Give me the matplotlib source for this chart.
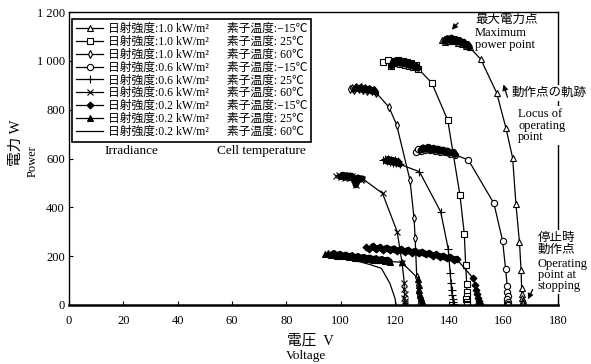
import matplotlib
matplotlib.use("Agg")
import matplotlib.pyplot as plt

plt.rcParams['font.family'] = ['Liberation Serif', 'Noto Sans CJK JP']
plt.rcParams['axes.unicode_minus'] = True

# ---- data (voltage V, power W) ----
# 1.0 kW/m2, -15 C  (open triangle)
v_10_m15 = [137.2, 138.0, 138.5, 139.3, 140.0, 140.8, 141.5, 142.3, 143.0, 143.8, 144.5, 145.3, 146.0, 146.8, 147.5,
            151.6, 157.4, 160.8, 163.3, 164.5, 165.8, 166.4, 166.6,
            166.7, 166.9, 167.0, 167.1, 167.2, 167.3, 167.0, 167.4]
p_10_m15 = [1085, 1090, 1078, 1092, 1082, 1095, 1080, 1090, 1075, 1085, 1070, 1078, 1062, 1068, 1055,
            1006, 869, 726, 602, 414, 258, 143, 70,
            45, 30, 20, 12, 5, 0, 8, 2]

# 1.0 kW/m2, 25 C  (open square)
v_10_25 = [115.7, 117.5, 118.7, 119.5, 120.3, 121.2, 122.0, 122.8, 123.6, 124.4, 125.2, 126.0, 126.8, 127.6, 128.5,
           133.5, 139.4, 143.9, 145.5, 146.0, 146.4,
           146.4, 146.5, 146.3, 146.6, 146.4, 146.5]
p_10_25 = [996, 1004, 978, 1000, 990, 1002, 988, 998, 985, 995, 980, 990, 975, 982, 968,
           910, 757, 450, 291, 164, 86,
           55, 38, 25, 14, 6, 0]

# 1.0 kW/m2, 60 C  (small open diamond)
v_10_60 = [103.4, 104.2, 105.0, 105.8, 106.6, 107.4, 108.2, 109.0, 109.8, 110.6, 111.4, 112.2, 113.0,
           117.8, 120.6, 125.5, 127.0, 127.4, 128.0,
           128.3, 128.6, 128.9, 129.2, 129.5, 129.8, 129.0]
p_10_60 = [885, 890, 882, 892, 884, 891, 880, 888, 878, 886, 875, 882, 870,
           810, 737, 512, 356, 274, 115,
           80, 55, 35, 20, 10, 3, 0]

# 0.6 kW/m2, -15 C  (open circle)
v_06_m15 = [127.6, 128.5, 129.4, 130.3, 131.2, 132.1, 133.0, 133.9, 134.8, 135.7, 136.6, 137.5, 138.4, 139.3, 140.2, 141.2, 142.2,
            147.0, 156.4, 159.6, 160.7, 161.3,
            161.4, 161.6, 161.3, 161.7, 161.5, 161.6]
p_06_m15 = [628, 640, 632, 645, 636, 646, 634, 643, 632, 640, 628, 636, 625, 632, 620, 626, 615,
            594, 416, 263, 147, 78,
            55, 38, 25, 14, 6, 0]

# 0.6 kW/m2, 25 C  (plus)
v_06_25 = [115.7, 116.3, 116.9, 117.5, 118.1, 118.7, 119.3, 119.9, 120.5, 121.1, 121.8,
           129.0, 136.8, 139.6, 140.3,
           140.6, 140.8, 141.0, 141.2, 141.4, 141.6, 141.5]
p_06_25 = [592, 600, 588, 598, 586, 595, 583, 592, 580, 588, 576,
           546, 382, 229, 130,
           90, 60, 40, 25, 12, 5, 0]

# 0.6 kW/m2, 60 C  (x)
v_06_60 = [98.3, 99.2, 100.0, 100.8, 101.6, 102.4, 103.2, 104.0, 104.8, 105.6, 106.4, 107.4, 108.0,
           115.4, 120.8, 122.6, 123.4,
           123.4, 123.6, 123.3, 123.7, 123.5, 123.6]
p_06_60 = [528, 534, 524, 533, 522, 531, 520, 529, 518, 491, 522, 514, 518,
           457, 300, 172, 92,
           65, 45, 30, 18, 8, 0]

# 0.2 kW/m2, -15 C  (filled diamond)
v_02_m15 = [109.2, 110.5, 111.8, 113.1, 114.4, 115.7, 117.0, 118.3, 119.6, 120.9, 122.2, 123.5, 124.8, 126.1,
            127.4, 128.7, 130.0, 131.3, 132.6, 133.9, 135.2, 136.5, 137.8, 139.1, 140.4, 141.6, 142.7,
            148.8,
            149.5, 149.8, 150.2, 150.5, 150.8, 151.0, 150.6, 151.2]
p_02_m15 = [238, 230, 240, 228, 236, 226, 234, 224, 231, 221, 228, 218, 225, 215,
            221, 211, 217, 207, 212, 202, 207, 197, 201, 191, 195, 186, 188,
            109,
            80, 60, 45, 30, 18, 8, 0, 3]

# 0.2 kW/m2, 25 C  (filled triangle)
v_02_25 = [94.2, 95.3, 96.4, 97.5, 98.6, 99.7, 100.8, 101.9, 103.0, 104.1, 105.2, 106.3, 107.4, 108.5,
           109.6, 110.7, 111.8, 112.9, 114.0, 115.1, 116.2, 117.2, 118.1,
           122.4, 128.6,
           128.7, 129.0, 129.3, 129.6, 129.9, 130.2, 129.8]
p_02_25 = [208, 214, 204, 212, 202, 209, 199, 206, 196, 203, 194, 200, 191, 197,
           188, 194, 186, 191, 183, 188, 180, 185, 178,
           175, 108,
           80, 60, 42, 28, 15, 6, 0]

# 0.2 kW/m2, 60 C  (line only)
v_02_60 = [95.0, 100.0, 104.0, 107.0, 111.0, 115.0, 118.1, 120.0, 120.4]
p_02_60 = [200, 192, 184, 177, 165, 150, 89, 27, 0]

# number of points at the start of each series that belong to the dense MPP cluster
mpp_counts = [15, 15, 13, 17, 11, 13, 27, 23, 0]

irr_labels = ["1.0", "1.0", "1.0", "0.6", "0.6", "0.6", "0.2", "0.2", "0.2"]
temp_labels = ["−15", " 25", " 60", "−15", " 25", " 60", "−15", " 25", " 60"]

series = [
    (v_10_m15, p_10_m15, dict(marker="^", ms=4.5, mfc="white")),
    (v_10_25, p_10_25, dict(marker="s", ms=4, mfc="white")),
    (v_10_60, p_10_60, dict(marker="d", ms=4, mfc="white")),
    (v_06_m15, p_06_m15, dict(marker="o", ms=4.5, mfc="white")),
    (v_06_25, p_06_25, dict(marker="+", ms=6)),
    (v_06_60, p_06_60, dict(marker="x", ms=5)),
    (v_02_m15, p_02_m15, dict(marker="D", ms=3.5, mfc="black")),
    (v_02_25, p_02_25, dict(marker="^", ms=4.5, mfc="black")),
    (v_02_60, p_02_60, dict(marker="None")),
]

fig = plt.figure(figsize=(5.91, 3.64), dpi=100)
ax = fig.add_axes([0.1168, 0.1621, 0.8274, 0.8049])

for (v, p, style), irr, temp, n in zip(series, irr_labels, temp_labels, mpp_counts):
    label = f"日射強度:{irr} kW/m²      素子温度:{temp}℃"
    ax.plot(v, p, color="black", lw=0.9, mec="black", mew=0.8, label=label, **style)
    if n > 2:
        # the operating point dithers round the MPP: overlapping marks read as a solid blob
        ax.plot(v[2:n], p[2:n], color="black", lw=4.5, solid_capstyle="round",
                solid_joinstyle="round", zorder=2.6)

ax.set_xlim(0, 180)
ax.set_ylim(0, 1200)
ax.set_xticks(range(0, 181, 20))
ax.set_yticks(range(0, 1201, 200))
ax.set_yticklabels(["0", "200", "400", "600", "800", "1 000", "1 200"])
ax.tick_params(direction="in", length=3, width=0.8, labelsize=9)
ax.tick_params(axis="x", pad=7)
ax.tick_params(axis="y", pad=3)
for side in ["left", "top", "right"]:
    ax.spines[side].set_linewidth(1.0)
ax.spines["bottom"].set_linewidth(1.8)

leg = ax.legend(loc="upper left", bbox_to_anchor=(0.006, 0.976), borderaxespad=0,
                fontsize=8.5, handlelength=2.3, labelspacing=0.07, borderpad=0.35,
                handletextpad=0.4, fancybox=False, framealpha=1, edgecolor="black")
leg.get_frame().set_linewidth(1.2)

ax.text(13.2, 632, "Irradiance", fontsize=9.5, va="center")
ax.text(54.5, 632, "Cell temperature", fontsize=9.5, va="center")

# axis labels
fig.text(0.027, 0.607, "電力 W", rotation=90, fontsize=10.5, ha="center", va="center")
fig.text(0.056, 0.558, "Power", rotation=90, fontsize=9, ha="center", va="center")
fig.text(0.526, 0.063, "電圧  V", fontsize=10.5, ha="center", va="center")
fig.text(0.518, 0.022, "Voltage", fontsize=9.5, ha="center", va="center")

# annotations
ax.text(149.4, 1167, "最大電力点", fontsize=9, va="center")
ax.text(149.4, 1116, "Maximum", fontsize=9, va="center")
ax.text(149.4, 1064, "power point", fontsize=9, va="center")
ax.annotate("", xy=(140.2, 1119), xytext=(143.9, 1164),
            arrowprops=dict(arrowstyle="-|>", color="black", lw=0.9, mutation_scale=8))

ax.text(162.9, 868, "動作点の軌跡", fontsize=9, va="center", zorder=5,
        bbox=dict(facecolor="white", edgecolor="none", pad=1.5))
ax.text(165.3, 735, "Locus of\noperating\npoint", fontsize=9, va="center", linespacing=0.9, zorder=5,
        bbox=dict(facecolor="white", edgecolor="none", pad=1.5))
ax.annotate("", xy=(159.6, 914), xytext=(161.7, 840),
            arrowprops=dict(arrowstyle="-|>", color="black", lw=0.9, mutation_scale=8))

ax.text(172.6, 250, "停止時\n動作点", fontsize=9, va="center", linespacing=1.0, zorder=5,
        bbox=dict(facecolor="white", edgecolor="none", pad=1.5))
ax.text(172.6, 122, "Operating\npoint at\nstopping", fontsize=9, va="center", linespacing=0.9, zorder=5,
        bbox=dict(facecolor="white", edgecolor="none", pad=1.5))
ax.annotate("", xy=(168.5, 13), xytext=(171.1, 74),
            arrowprops=dict(arrowstyle="-|>", color="black", lw=0.9, mutation_scale=8))

fig.savefig("out.png", dpi=100)
